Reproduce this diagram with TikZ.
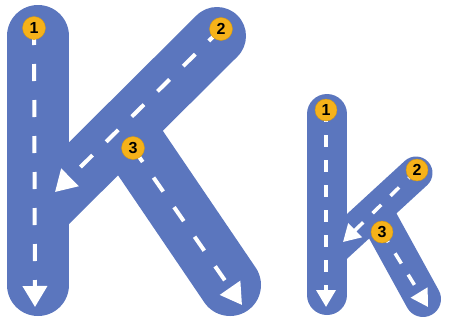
\documentclass[tikz,border=0pt]{standalone}
\usepackage{fontspec}
\setmainfont{Liberation Sans}
\usetikzlibrary{arrows.meta}
\definecolor{roadblue}{RGB}{91,118,190}
\definecolor{badgeorange}{RGB}{246,178,26}
\begin{document}
\begin{tikzpicture}[x=1pt,y=-1pt,
  band/.style={draw=roadblue, line width=#1, line cap=round},
  lane/.style={draw=white, line width=4pt, dash pattern=on 17pt off 19pt, -{Triangle[length=21pt,width=24pt]}},
  smalllane/.style={draw=white, line width=3.5pt, dash pattern=on 12pt off 13pt, -{Triangle[length=17pt,width=19pt]}},
  badge/.style={circle, fill=badgeorange, draw=badgeorange!85!black, line width=0.4pt, inner sep=0pt, minimum size=#1, font=\bfseries\fontsize{16}{16}\selectfont}]
\useasboundingbox (0,0) rectangle (449,324);
% big K
\coordinate (Kstemtop) at (38,36);
\coordinate (Kstembot) at (38,285);
\coordinate (Karmtop) at (217,36);
\coordinate (Karmbot) at (40,212);
\coordinate (Klegtop) at (137,148);
\coordinate (Klegbot) at (230,285);
\coordinate (Ks1) at (34,28);
\coordinate (Ks2) at (221,29);
\coordinate (Ks3) at (133,148);
\coordinate (Ke1) at (35,307);
\coordinate (Ke2) at (55,192);
\coordinate (Ke3) at (242,305);
% small k
\coordinate (kstemtop) at (327,114);
\coordinate (kstembot) at (327,295);
\coordinate (karmtop) at (416,173);
\coordinate (karmbot) at (330,252);
\coordinate (klegtop) at (379,219);
\coordinate (klegbot) at (423,299);
\coordinate (ks1) at (326,110);
\coordinate (ks2) at (417,170);
\coordinate (ks3) at (382,232);
\coordinate (ke1) at (326,307);
\coordinate (ke2) at (343,242);
\coordinate (ke3) at (428,307);
% roads
\draw[band=62pt] (Kstemtop) -- (Kstembot);
\draw[band=58pt] (Karmtop) -- (Karmbot);
\draw[band=62pt] (Klegtop) -- (Klegbot);
\draw[band=40pt] (kstemtop) -- (kstembot);
\draw[band=33pt] (karmtop) -- (karmbot);
\draw[band=36pt] (klegtop) -- (klegbot);
% lanes
\draw[lane] (Ks1) -- (Ke1);
\draw[lane] (Ks2) -- (Ke2);
\draw[lane] (Ks3) -- (Ke3);
\draw[smalllane] (ks1) -- (ke1);
\draw[smalllane] (ks2) -- (ke2);
\draw[smalllane] (ks3) -- (ke3);
% badges
\node[badge=23pt] (K1) at (Ks1) {1};
\node[badge=23pt] (K2) at (Ks2) {2};
\node[badge=23pt] (K3) at (Ks3) {3};
\node[badge=22pt] (k1) at (ks1) {1};
\node[badge=22pt] (k2) at (ks2) {2};
\node[badge=22pt] (k3) at (ks3) {3};
\end{tikzpicture}
\end{document}
